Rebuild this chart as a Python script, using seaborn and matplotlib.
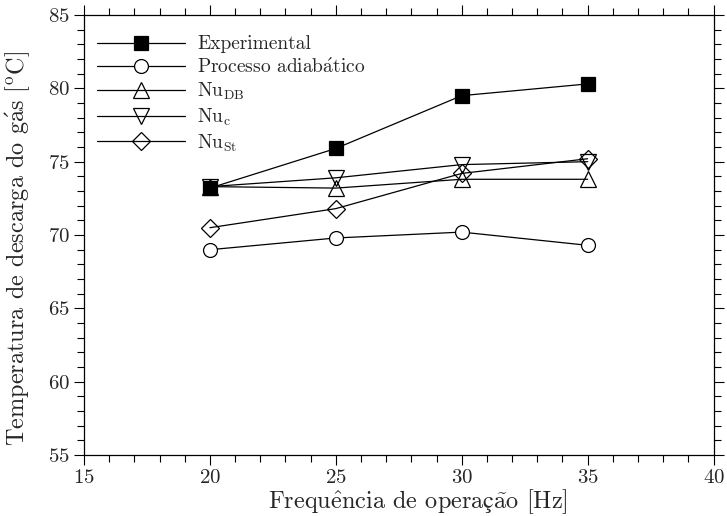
import numpy as np
import pandas as pd
import matplotlib
matplotlib.use("Agg")
import matplotlib.pyplot as plt
import seaborn as sns
from matplotlib.ticker import MultipleLocator

freq = [20, 25, 30, 35]
experimental = [73.2, 75.9, 79.5, 80.3]
adiabatico = [69.0, 69.8, 70.2, 69.3]
nu_db = [73.3, 73.2, 73.8, 73.8]
nu_c = [73.3, 73.9, 74.8, 75.0]
nu_st = [70.5, 71.8, 74.2, 75.2]

sns.set_style("ticks")
plt.rcParams['font.family'] = ['cmr10', 'DejaVu Serif']
plt.rcParams['mathtext.fontset'] = 'cm'
plt.rcParams['axes.formatter.use_mathtext'] = True
plt.rcParams['axes.unicode_minus'] = False

# accents drawn via mathtext so they stay in Computer Modern
a_ac = r'$\mathrm{\acute{a}}$'
e_hat = r'$\mathrm{\hat{e}}$'
a_til = r'$\mathrm{\tilde{a}}$'
c_ced = r'$\mathrm{ç}$'

fig = plt.figure(figsize=(7.27, 5.16), dpi=100)
ax = fig.add_axes([0.1155, 0.118, 0.866, 0.853])

series = [
    (experimental, 's', 'black', 'Experimental', 9.5, 5),
    (adiabatico, 'o', 'white', 'Processo adiab' + a_ac + 'tico', 10, 3),
    (nu_db, '^', 'none', r'Nu$_{\mathrm{DB}}$', 11, 3),
    (nu_c, 'v', 'none', r'Nu$_{\mathrm{c}}$', 11, 3),
    (nu_st, 'D', 'none', r'Nu$_{\mathrm{St}}$', 9, 3),
]

for vals, mk, fc, lab, ms, z in series:
    sns.lineplot(x=freq, y=vals, ax=ax, marker=mk, color='black', lw=0.9,
                 markersize=ms, markerfacecolor=fc, markeredgecolor='black',
                 markeredgewidth=0.9, label=lab, zorder=z)

ax.set_xlim(15, 40)
ax.set_ylim(55, 85)
ax.xaxis.set_major_locator(MultipleLocator(5))
ax.xaxis.set_minor_locator(MultipleLocator(1))
ax.yaxis.set_major_locator(MultipleLocator(5))
ax.yaxis.set_minor_locator(MultipleLocator(1))
ax.tick_params(which='both', direction='out', top=True, right=True,
               labelsize=15, width=0.8, color='black', pad=3)
ax.tick_params(which='major', length=7)
ax.tick_params(which='minor', length=5)
for s in ax.spines.values():
    s.set_linewidth(0.9)
    s.set_color('black')

ax.set_xlabel('Frequ' + e_hat + 'ncia de opera' + c_ced + a_til + 'o [Hz]',
              fontsize=17.5)
ax.set_ylabel('Temperatura de descarga do g' + a_ac + r's [$^{\mathrm{o}}$C]',
              fontsize=17.5)
ax.xaxis.set_label_coords(0.53, -0.072)
ax.yaxis.set_label_coords(-0.082, 0.47)

ax.legend(loc='upper left', frameon=False, fontsize=14, handlelength=4.5,
          handletextpad=0.65, labelspacing=0.22, borderpad=0.3,
          borderaxespad=0.0, bbox_to_anchor=(0.012, 0.967))

fig.savefig('out.png', dpi=100)
